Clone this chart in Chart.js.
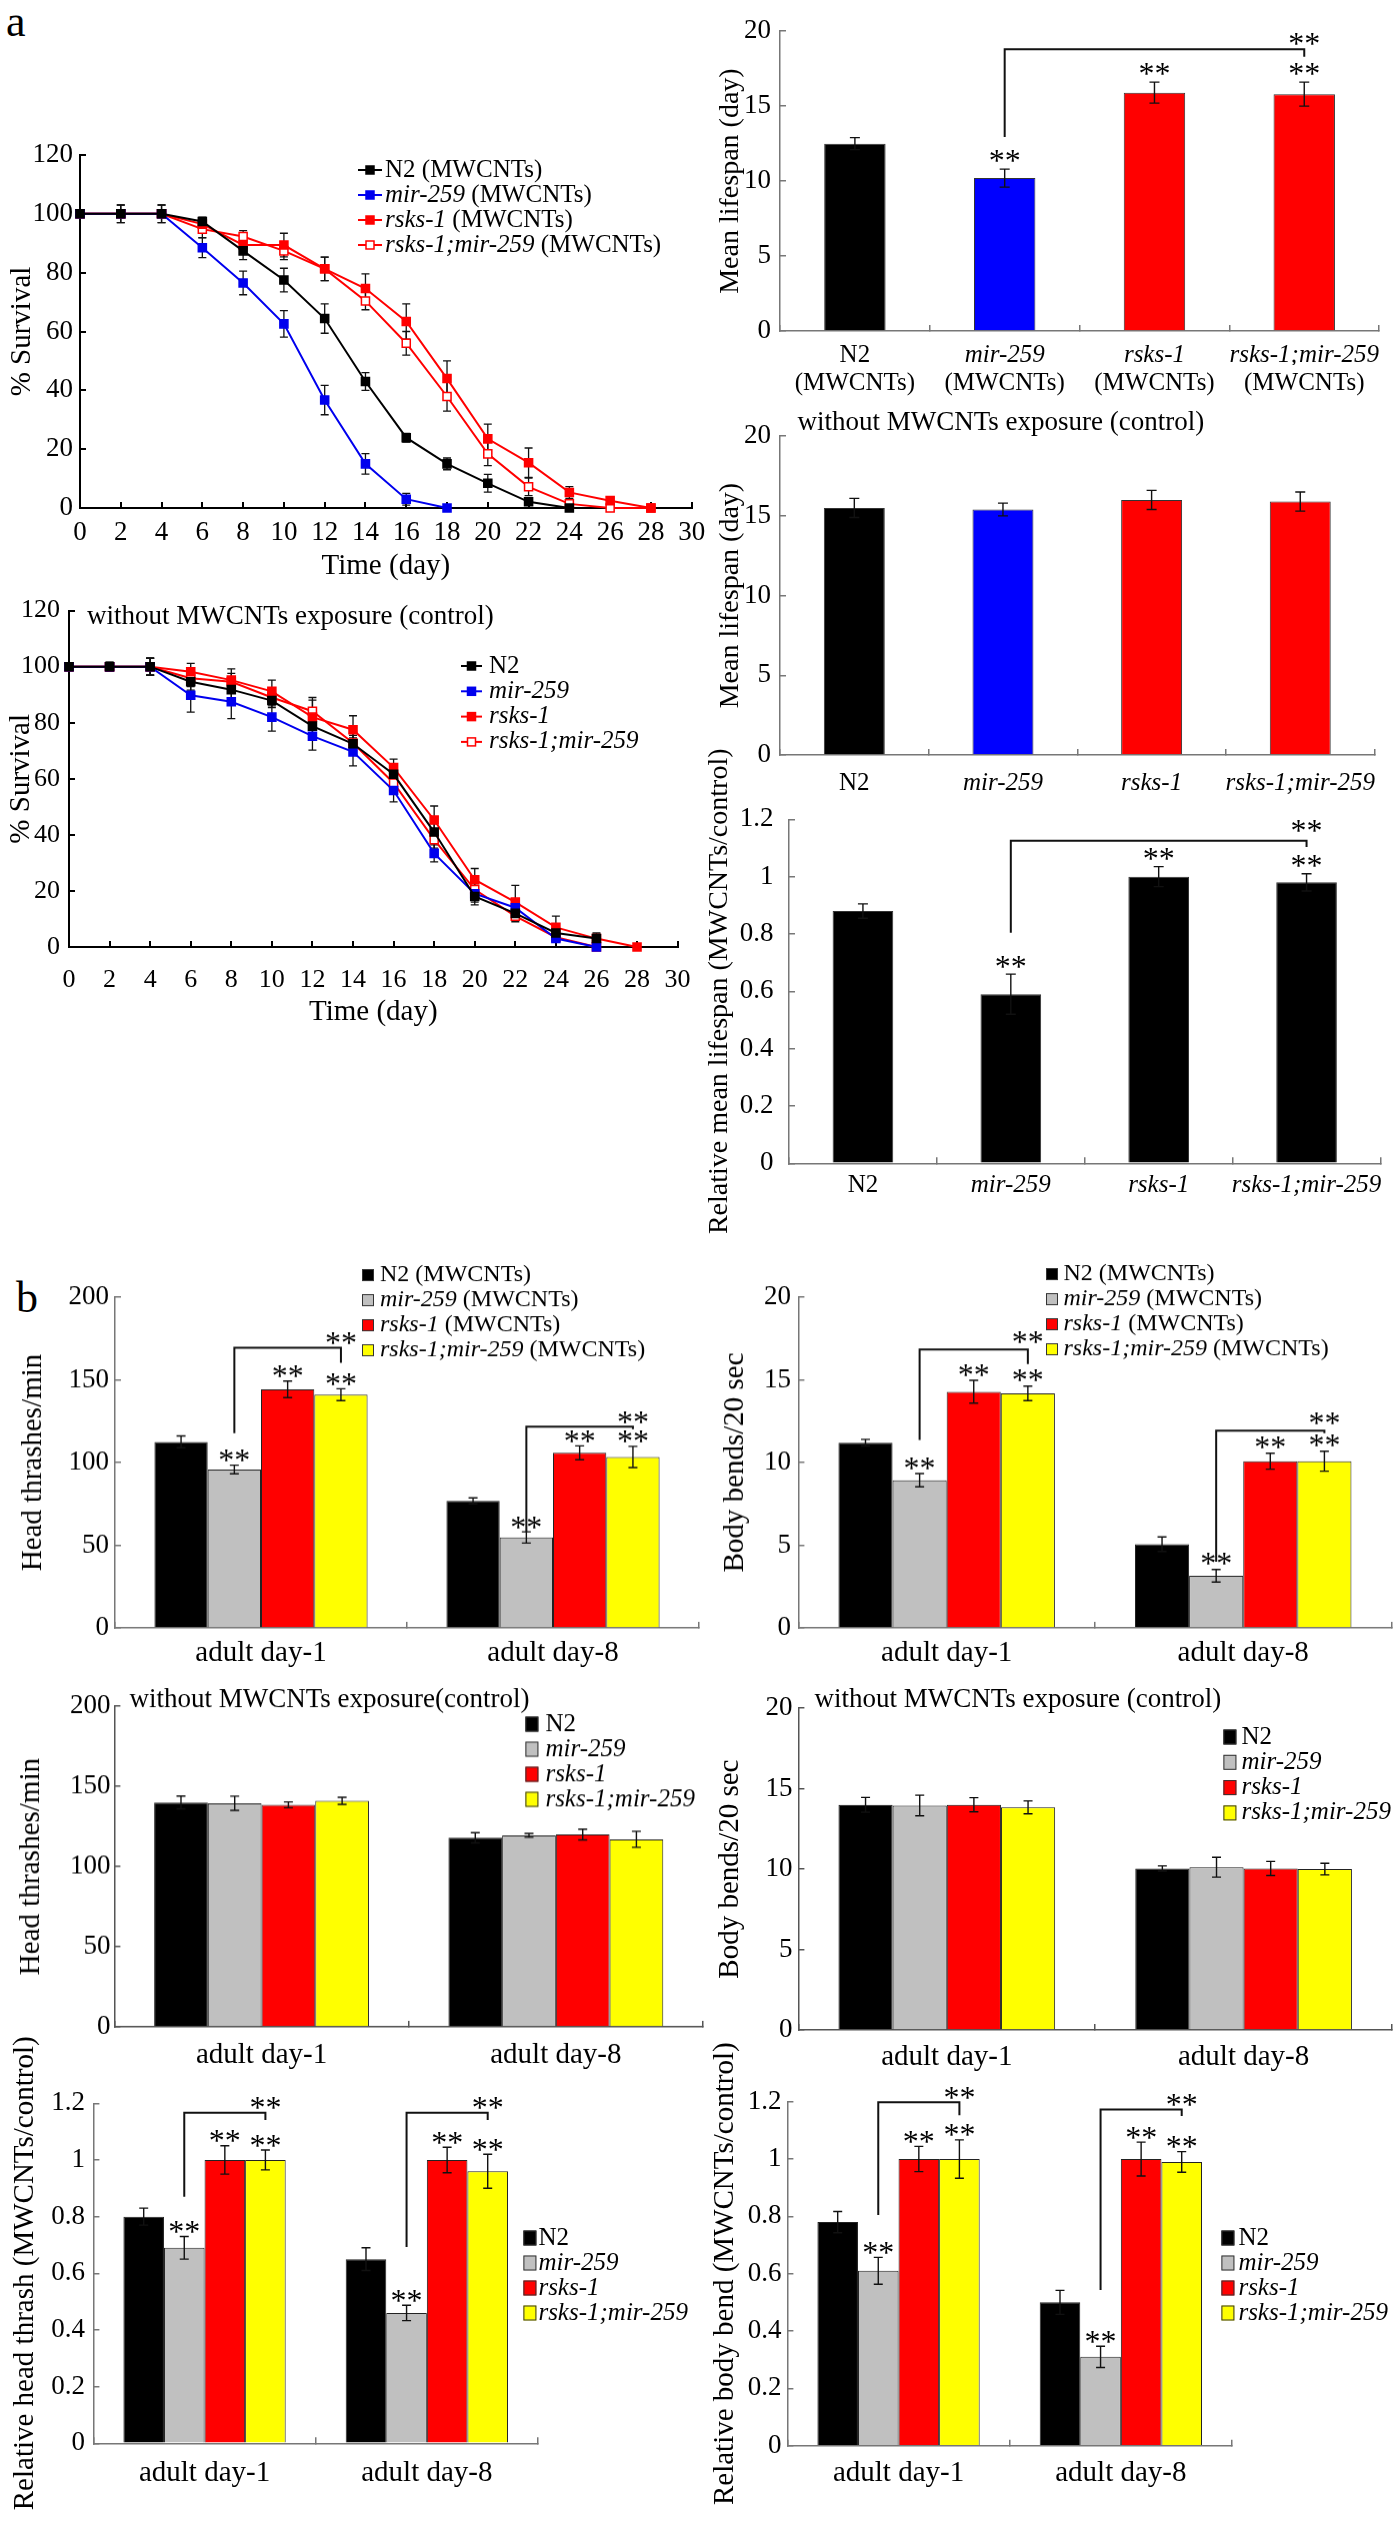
<!DOCTYPE html>
<html><head><meta charset="utf-8">
<script src="https://cdn.jsdelivr.net/npm/chart.js@4.4.1/dist/chart.umd.min.js"></script>
<style>
html,body{margin:0;padding:0;background:#fff;}
body{position:relative;width:1395px;height:2523px;overflow:hidden;font-family:'Liberation Serif','Times New Roman',serif;}
.box{position:absolute;}
.lbl{position:absolute;font-family:'Liberation Serif','Times New Roman',serif;color:#000;line-height:1;}
</style></head><body>
<div class="lbl" style="left:6px;top:0px;font-size:44px;">a</div>
<div class="lbl" style="left:16px;top:1276px;font-size:44px;">b</div>
<script>
// ---------- categories / labels ----------
const genotypes = ['N2', 'mir-259', 'rsks-1', 'rsks-1;mir-259'];
const mwLabels = ['N2 (MWCNTs)', 'mir-259 (MWCNTs)', 'rsks-1 (MWCNTs)', 'rsks-1;mir-259 (MWCNTs)'];
const exposureTag = '(MWCNTs)';
const stages = ['adult day-1', 'adult day-8'];
const days = [0, 2, 4, 6, 8, 10, 12, 14, 16, 18, 20, 22, 24, 26, 28];

// ---------- survival, MWCNTs exposure ----------
const survMW_N2   = [100, 100, 100, 97.4, 87.4, 77.5, 64.4, 43, 23.9, 15, 8.4, 2.1, 0, null, null];
const survMW_mir  = [100, 100, 100, 88.5, 76.5, 62.6, 36.7, 15, 3, 0, null, null, null, null, null];
const survMW_rsks = [100, 100, 100, 96.5, 89.4, 89.4, 81.3, 74.6, 63.4, 44, 23.5, 15.4, 5.3, 2.5, 0];
const survMW_dbl  = [100, 100, 100, 94.8, 92.3, 87.4, 81.3, 70.4, 56, 37.9, 18.4, 7.2, 1.4, 0, 0];
const errMW_N2   = [0, 3, 3, 1.5, 3, 4, 5, 3, 1.5, 2, 3, 1, 0, null, null];
const errMW_mir  = [0, 0, 0, 3.4, 4, 4.5, 5, 3.5, 2, 0, null, null, null, null, null];
const errMW_rsks = [0, 0, 0, 2, 2, 4, 4, 5, 6, 6, 5, 5, 2, 1, 0];
const errMW_dbl  = [0, 3, 3, 3, 2, 3, 4, 3, 4, 5, 4, 3, 1, 0, 0];

// ---------- survival, control ----------
const survC_N2   = [100, 100, 100, 94.6, 91.8, 87.9, 78.8, 72.5, 61.6, 41, 18, 12, 5, 3, null];
const survC_mir  = [100, 100, 100, 89.8, 87.5, 82, 75.2, 69.6, 55.8, 33.4, 19, 14, 3, 0, null];
const survC_rsks = [100, 100, 100, 98.2, 95.2, 91.2, 82, 77.5, 64, 45.3, 24, 16, 7, 3, 0];
const survC_dbl  = [100, 100, 100, 95.9, 94.6, 89, 84.1, 72.8, 58.5, 38.3, 20.5, 11, 3.5, 0, null];
const errC_N2   = [0, 1.5, 3, 3, 3, 2.5, 3, 3, 3, 3, 3, 2, 1.5, 1.5, null];
const errC_mir  = [0, 1.5, 3, 6, 6, 5, 5, 5, 4, 3, 3, 2, 1, 0, null];
const errC_rsks = [0, 1.5, 3, 3, 4, 4, 7, 5, 3, 5, 4, 6, 4, 2, 0];
const errC_dbl  = [0, 1.5, 3, 3, 3, 3, 4, 4, 3, 3, 3, 2, 1, 0, null];

// ---------- mean lifespan ----------
const lifeMW = [12.5, 10.2, 15.9, 15.8];
const lifeMWErr = [0.4, 0.6, 0.7, 0.8];
const lifeCtl = [15.5, 15.4, 16.0, 15.9];
const lifeCtlErr = [0.6, 0.4, 0.6, 0.6];
const lifeRel = [0.88, 0.59, 1.0, 0.98];
const lifeRelErr = [0.025, 0.07, 0.035, 0.03];

// ---------- head thrashes, MWCNTs ----------
const htMW_N2 = [112.5, 76.8],  htMW_N2Err = [3.6, 1.8];
const htMW_mir = [95.8, 54.7],  htMW_mirErr = [2.6, 3.4];
const htMW_rsks = [144.2, 105.9], htMW_rsksErr = [5, 4.2];
const htMW_dbl = [141, 103.4],  htMW_dblErr = [3.6, 6.4];
// ---------- body bends, MWCNTs ----------
const bbMW_N2 = [11.2, 5.06],   bbMW_N2Err = [0.2, 0.44];
const bbMW_mir = [8.93, 3.15],  bbMW_mirErr = [0.4, 0.38];
const bbMW_rsks = [14.28, 10.08], bbMW_rsksErr = [0.69, 0.48];
const bbMW_dbl = [14.18, 10.08], bbMW_dblErr = [0.44, 0.6];
// ---------- head thrashes, control ----------
const htC_N2 = [140, 118],    htC_N2Err = [4, 3.2];
const htC_mir = [139.5, 119.5], htC_mirErr = [4.4, 1.2];
const htC_rsks = [138.5, 120], htC_rsksErr = [1.8, 3.4];
const htC_dbl = [141, 117],   htC_dblErr = [2.2, 5];
// ---------- body bends, control ----------
const bbC_N2 = [14.0, 10.04],  bbC_N2Err = [0.46, 0.16];
const bbC_mir = [13.96, 10.12], bbC_mirErr = [0.64, 0.62];
const bbC_rsks = [14.0, 10.04], bbC_rsksErr = [0.44, 0.44];
const bbC_dbl = [13.84, 10.0],  bbC_dblErr = [0.4, 0.36];
// ---------- relative head thrash ----------
const rhtN2 = [0.80, 0.65],  rhtN2Err = [0.03, 0.04];
const rhtMir = [0.69, 0.46], rhtMirErr = [0.04, 0.027];
const rhtRsks = [1.0, 1.0],  rhtRsksErr = [0.05, 0.045];
const rhtDbl = [1.0, 0.96],  rhtDblErr = [0.035, 0.06];
// ---------- relative body bend ----------
const rbbN2 = [0.78, 0.50],  rbbN2Err = [0.037, 0.042];
const rbbMir = [0.61, 0.31], rbbMirErr = [0.047, 0.037];
const rbbRsks = [1.0, 1.0],  rbbRsksErr = [0.044, 0.059];
const rbbDbl = [1.0, 0.99],  rbbDblErr = [0.067, 0.036];

// ---------- styling ----------
const SERIF = "'Liberation Serif','Times New Roman',serif";
const colorsA = ['#000000', '#0000ff', '#ff0000', '#ff0000'];
const colorsB = ['#000000', '#c0c0c0', '#ff0000', '#ffff00'];
Chart.defaults.font.family = SERIF;
Chart.defaults.color = '#000';

const extras = {
  id: 'extras',
  beforeDatasetsDraw(chart) {
    const o = chart.options.plugins.extras || {};
    if (o.errBehind) drawErrors(chart, o);
  },
  afterDatasetsDraw(chart) {
    const o = chart.options.plugins.extras || {};
    if (!o.errBehind) drawErrors(chart, o);
  },
  afterDraw(chart) {
    const o = chart.options.plugins.extras || {};
    const ctx = chart.ctx, ys = chart.scales.y;
    const ox = o.ox || 0, oy = o.oy || 0;
    const sfs = o.sfs || 32;
    ctx.save();
    const star = (x, bottom) => {
      ctx.font = sfs + 'px ' + SERIF;
      ctx.fillStyle = '#000'; ctx.textAlign = 'center'; ctx.textBaseline = 'alphabetic';
      ctx.fillText('**', x, bottom + 0.3 * sfs);
    };
    (o.stars || []).forEach(([di, i]) => {
      const ds = chart.data.datasets[di];
      const el = chart.getDatasetMeta(di).data[i];
      const top = ys.getPixelForValue(ds.data[i] + (ds.errors ? ds.errors[i] : 0));
      star(el.x, top - (o.starGap || 5));
    });
    (o.brackets || []).forEach(b => {
      const xa = chart.getDatasetMeta(b.a[0]).data[b.a[1]].x;
      const xb = chart.getDatasetMeta(b.b[0]).data[b.b[1]].x;
      const yl = ys.getPixelForValue(b.level), ya = ys.getPixelForValue(b.aEnd), yb = ys.getPixelForValue(b.bEnd);
      ctx.strokeStyle = '#111'; ctx.lineWidth = 2;
      ctx.beginPath(); ctx.moveTo(xa, ya); ctx.lineTo(xa, yl); ctx.lineTo(xb, yl); ctx.lineTo(xb, yb); ctx.stroke();
      star(xb, yl - (o.topGap || 5));
    });
    const L = o.legend;
    if (L) {
      chart.data.datasets.forEach((ds, i) => {
        const y = L.y + i * L.dy - oy;
        const x = L.x - ox;
        if (L.kind === 'line') {
          ctx.strokeStyle = ds.borderColor; ctx.lineWidth = 2;
          ctx.beginPath(); ctx.moveTo(x, y); ctx.lineTo(x + L.len, y); ctx.stroke();
          const s = 8;
          ctx.fillStyle = ds.pointBackgroundColor;
          ctx.fillRect(x + L.len / 2 - s / 2, y - s / 2, s, s);
          ctx.lineWidth = 1.5; ctx.strokeStyle = ds.pointBorderColor;
          ctx.strokeRect(x + L.len / 2 - s / 2, y - s / 2, s, s);
        } else {
          ctx.fillStyle = ds.backgroundColor;
          ctx.fillRect(x, y - L.h / 2, L.w, L.h);
          ctx.strokeStyle = '#333'; ctx.lineWidth = 1;
          ctx.strokeRect(x + 0.5, y - L.h / 2 + 0.5, L.w - 1, L.h - 1);
        }
        const lab = ds.label;
        let parts;
        if (lab.indexOf('N2') === 0) parts = [[lab, false]];
        else {
          const k = lab.indexOf(' ');
          parts = k < 0 ? [[lab, true]] : [[lab.slice(0, k), true], [lab.slice(k), false]];
        }
        let tx = x + L.dx;
        ctx.textBaseline = 'middle'; ctx.textAlign = 'left'; ctx.fillStyle = '#000';
        parts.forEach(([t, it]) => {
          ctx.font = (it ? 'italic ' : '') + L.fs + 'px ' + SERIF;
          ctx.fillText(t, tx, y);
          tx += ctx.measureText(t).width;
        });
      });
    }
    (o.texts || []).forEach(t => {
      ctx.font = t.fs + 'px ' + SERIF;
      ctx.fillStyle = '#000'; ctx.textAlign = 'left'; ctx.textBaseline = 'middle';
      ctx.fillText(t.t, t.x - ox, t.y - oy);
    });
    ctx.restore();
  }
};

function drawErrors(chart, o) {
  const ctx = chart.ctx, ys = chart.scales.y;
  ctx.save();
  chart.data.datasets.forEach((ds, di) => {
    if (!ds.errors) return;
    const meta = chart.getDatasetMeta(di);
    meta.data.forEach((el, i) => {
      const raw = ds.data[i];
      const v = (raw !== null && typeof raw === 'object') ? raw.y : raw;
      const e = ds.errors[i];
      if (v == null || !e) return;
      const y1 = ys.getPixelForValue(v + e), y2 = ys.getPixelForValue(v - e);
      const c = (o.cap || 8) / 2, x = el.x;
      ctx.strokeStyle = '#111'; ctx.lineWidth = o.errW || 1.4;
      ctx.beginPath();
      ctx.moveTo(x, y1); ctx.lineTo(x, y2);
      ctx.moveTo(x - c, y1); ctx.lineTo(x + c, y1);
      ctx.moveTo(x - c, y2); ctx.lineTo(x + c, y2);
      ctx.stroke();
    });
  });
  ctx.restore();
}

function linAxis(o) {
  return {
    type: 'linear', min: o.min, max: o.max,
    ticks: {stepSize: o.step, padding: o.pad, font: {size: o.fs}, color: '#000', autoSkip: false, maxRotation: 0,
      callback: v => String(Math.round(v * 100) / 100)},
    grid: {drawOnChartArea: false, drawTicks: true, tickLength: -6, color: o.color, lineWidth: o.lw},
    border: {display: true, color: o.color, width: o.lw},
    title: o.title ? {display: true, text: o.title, font: {size: o.tfs}, padding: 0, color: '#000'} : {display: false}
  };
}
function catAxis(o) {
  return {
    type: 'category', offset: true,
    ticks: {padding: o.pad, font: o.font, color: '#000', autoSkip: false, maxRotation: 0},
    grid: {offset: true, drawOnChartArea: false, drawTicks: true, tickLength: -6, color: o.color, lineWidth: o.lw},
    border: {display: true, color: o.color, width: o.lw}
  };
}
const italicAfterFirst = size => c => ({size: size, style: c.index === 0 ? 'normal' : 'italic'});

function build(spec) {
  const {box, axes} = spec;
  const div = document.createElement('div');
  div.className = 'box';
  div.style.left = box.x + 'px'; div.style.top = box.y + 'px';
  div.style.width = box.w + 'px'; div.style.height = box.h + 'px';
  const cv = document.createElement('canvas');
  cv.width = box.w; cv.height = box.h;
  cv.style.width = box.w + 'px'; cv.style.height = box.h + 'px';
  div.appendChild(cv);
  document.body.appendChild(div);
  const yw = axes.l - box.x;
  const xh = box.y + box.h - axes.b;
  const scales = spec.scales;
  scales.y.afterFit = s => { s.width = yw; };
  if (scales.x2) {
    scales.x.afterFit = s => { s.height = spec.xh1; };
    scales.x2.afterFit = s => { s.height = xh - spec.xh1; };
  } else {
    scales.x.afterFit = s => { s.height = xh; };
  }
  return new Chart(cv, {
    type: spec.type,
    data: spec.data,
    options: {
      responsive: false, animation: false,
      layout: {autoPadding: false, padding: {left: 0, top: axes.t - box.y, right: box.x + box.w - axes.r, bottom: 0}},
      plugins: {legend: {display: false}, tooltip: {enabled: false},
        extras: Object.assign({ox: box.x, oy: box.y}, spec.extras)},
      scales: scales
    },
    plugins: [extras]
  });
}

function survDS(label, vals, errs, color, open) {
  return {
    label: label,
    data: days.map((d, i) => ({x: d, y: vals[i]})).filter(p => p.y != null),
    errors: errs,
    borderColor: color, backgroundColor: color,
    pointStyle: 'rect', pointRadius: 5.7,
    pointBackgroundColor: open ? '#ffffff' : color, pointBorderColor: color, pointBorderWidth: 1.5,
    borderWidth: 2, clip: false, tension: 0
  };
}
function genoBarDS(data, errs, label) {
  return {label: label, data: data, errors: errs, backgroundColor: colorsA, borderColor: '#333', borderWidth: 1,
    categoryPercentage: 0.82, barPercentage: 0.5};
}
function groupDS(labels, sets) {
  return sets.map((s, k) => ({label: labels[k], data: s[0], errors: s[1], backgroundColor: colorsB[k],
    borderColor: '#222', borderWidth: 1, categoryPercentage: 0.73, barPercentage: 1}));
}

// ===== A1: survival with MWCNTs =====
build({
  box: {x: 5, y: 125, w: 715, h: 459}, axes: {l: 80, r: 695, t: 155, b: 508}, type: 'line',
  data: {datasets: [
    survDS(mwLabels[0], survMW_N2, errMW_N2, '#000000', false),
    survDS(mwLabels[1], survMW_mir, errMW_mir, '#0000ee', false),
    survDS(mwLabels[2], survMW_rsks, errMW_rsks, '#ff0000', false),
    survDS(mwLabels[3], survMW_dbl, errMW_dbl, '#ff0000', true)]},
  scales: {
    x: linAxis({min: 0, max: 30, step: 2, pad: 14.8, fs: 27, color: '#000', lw: 2, title: 'Time (day)', tfs: 29}),
    y: linAxis({min: 0, max: 120, step: 20, pad: 13, fs: 27, color: '#000', lw: 2, title: '% Survival', tfs: 29})
  },
  extras: {errBehind: true, cap: 8, errW: 1.3, legend: {kind: 'line', x: 358, y: 170, dy: 25, len: 24, dx: 27, fs: 25}}
});

// ===== A2: survival control =====
build({
  box: {x: 4, y: 580, w: 710, h: 450}, axes: {l: 69, r: 684, t: 607, b: 947}, type: 'line',
  data: {datasets: [
    survDS(genotypes[0], survC_N2, errC_N2, '#000000', false),
    survDS(genotypes[1], survC_mir, errC_mir, '#0000ee', false),
    survDS(genotypes[2], survC_rsks, errC_rsks, '#ff0000', false),
    survDS(genotypes[3], survC_dbl, errC_dbl, '#ff0000', true)]},
  scales: {
    x: linAxis({min: 0, max: 30, step: 2, pad: 23.4, fs: 26, color: '#000', lw: 2, title: 'Time (day)', tfs: 29}),
    y: linAxis({min: 0, max: 120, step: 20, pad: 15, fs: 26, color: '#000', lw: 2, title: '% Survival', tfs: 29})
  },
  extras: {errBehind: true, cap: 8, errW: 1.3,
    legend: {kind: 'line', x: 461, y: 666, dy: 25.3, len: 21, dx: 28, fs: 25},
    texts: [{t: 'without MWCNTs exposure (control)', x: 87, y: 617, fs: 27}]}
});

// ===== A3: mean lifespan MWCNTs =====
build({
  box: {x: 714, y: 0, w: 681, h: 400}, axes: {l: 780, r: 1387, t: 9, b: 331}, xh1: 34, type: 'bar',
  data: {labels: genotypes, datasets: [genoBarDS(lifeMW, lifeMWErr, 'Mean lifespan')]},
  scales: {
    x: catAxis({pad: 15, font: italicAfterFirst(25), color: '#777', lw: 1.5}),
    x2: {type: 'category', position: 'bottom', offset: true, weight: 1, labels: genotypes.map(() => exposureTag),
      grid: {display: false, drawTicks: false}, border: {display: false},
      ticks: {padding: 3, font: {size: 25}, color: '#000', autoSkip: false, maxRotation: 0}},
    y: linAxis({min: 0, max: 20, step: 5, pad: 15, fs: 27, color: '#777', lw: 1.5, title: 'Mean lifespan (day)', tfs: 28})
  },
  extras: {cap: 10, stars: [[0, 1], [0, 2], [0, 3]], starGap: 8, topGap: 5,
    brackets: [{a: [0, 1], b: [0, 3], level: 18.8, aEnd: 12.95, bEnd: 18.3}]}
});

// ===== A4: mean lifespan control =====
build({
  box: {x: 714, y: 405, w: 681, h: 395}, axes: {l: 780, r: 1387, t: 416, b: 755}, type: 'bar',
  data: {labels: genotypes, datasets: [genoBarDS(lifeCtl, lifeCtlErr, 'Mean lifespan')]},
  scales: {
    x: catAxis({pad: 19, font: italicAfterFirst(25), color: '#777', lw: 1.5}),
    y: linAxis({min: 0, max: 20, step: 5, pad: 15, fs: 27, color: '#777', lw: 1.5, title: 'Mean lifespan (day)', tfs: 28})
  },
  extras: {cap: 10, texts: [{t: 'without MWCNTs exposure (control)', x: 797.5, y: 423, fs: 27}]}
});

// ===== A5: relative mean lifespan =====
build({
  box: {x: 703, y: 740, w: 692, h: 513}, axes: {l: 789, r: 1387, t: 819.3, b: 1163.3}, type: 'bar',
  data: {labels: genotypes, datasets: [Object.assign(genoBarDS(lifeRel, lifeRelErr, 'Relative mean lifespan'),
    {backgroundColor: '#000000'})]},
  scales: {
    x: catAxis({pad: 12.7, font: italicAfterFirst(25), color: '#777', lw: 1.5}),
    y: linAxis({min: 0, max: 1.2, step: 0.2, pad: 21.6, fs: 27, color: '#777', lw: 1.5,
      title: 'Relative mean lifespan (MWCNTs/control)', tfs: 28})
  },
  extras: {cap: 10, stars: [[0, 1], [0, 2], [0, 3]], starGap: 7, topGap: 9,
    brackets: [{a: [0, 1], b: [0, 3], level: 1.125, aEnd: 0.804, bEnd: 1.103}]}
});

const allStars = [[1, 0], [2, 0], [3, 0], [1, 1], [2, 1], [3, 1]];

// ===== B1: head thrashes MWCNTs =====
build({
  box: {x: 16, y: 1250, w: 684, h: 427.7}, axes: {l: 115, r: 699, t: 1297, b: 1627.7}, type: 'bar',
  data: {labels: stages, datasets: groupDS(mwLabels, [[htMW_N2, htMW_N2Err], [htMW_mir, htMW_mirErr],
    [htMW_rsks, htMW_rsksErr], [htMW_dbl, htMW_dblErr]])},
  scales: {
    x: catAxis({pad: 13.9, font: {size: 29}, color: '#777', lw: 1.5}),
    y: linAxis({min: 0, max: 200, step: 50, pad: 12, fs: 27, color: '#777', lw: 1.5, title: 'Head thrashes/min', tfs: 29})
  },
  extras: {cap: 9, stars: allStars, starGap: 4, topGap: 4,
    brackets: [{a: [1, 0], b: [3, 0], level: 169.4, aEnd: 117.8, bEnd: 160.3},
               {a: [1, 1], b: [3, 1], level: 121.6, aEnd: 58, bEnd: 120.2}],
    legend: {kind: 'box', x: 362, y: 1275, dy: 25, w: 12, h: 12, dx: 18, fs: 24}}
});

// ===== B2: body bends MWCNTs =====
build({
  box: {x: 718, y: 1250, w: 677, h: 427.7}, axes: {l: 798.4, r: 1391.5, t: 1297, b: 1627.7}, type: 'bar',
  data: {labels: stages, datasets: groupDS(mwLabels, [[bbMW_N2, bbMW_N2Err], [bbMW_mir, bbMW_mirErr],
    [bbMW_rsks, bbMW_rsksErr], [bbMW_dbl, bbMW_dblErr]])},
  scales: {
    x: catAxis({pad: 13.9, font: {size: 29}, color: '#777', lw: 1.5}),
    y: linAxis({min: 0, max: 20, step: 5, pad: 13.4, fs: 27, color: '#777', lw: 1.5, title: 'Body bends/20 sec', tfs: 29})
  },
  extras: {cap: 9, stars: allStars, starGap: 5, topGap: 7,
    brackets: [{a: [1, 0], b: [3, 0], level: 16.84, aEnd: 11.36, bEnd: 15.95},
               {a: [1, 1], b: [3, 1], level: 11.92, aEnd: 4.0, bEnd: 11.78}],
    legend: {kind: 'box', x: 1046, y: 1274, dy: 25, w: 12, h: 12, dx: 17.5, fs: 24}}
});

// ===== B3: head thrashes control =====
build({
  box: {x: 13.6, y: 1680, w: 691.4, h: 394.7}, axes: {l: 114, r: 703, t: 1693.3, b: 2026.7}, type: 'bar',
  data: {labels: stages, datasets: groupDS(genotypes, [[htC_N2, htC_N2Err], [htC_mir, htC_mirErr],
    [htC_rsks, htC_rsksErr], [htC_dbl, htC_dblErr]])},
  scales: {
    x: catAxis({pad: 16.9, font: {size: 29}, color: '#555', lw: 1.5}),
    y: linAxis({min: 0, max: 200, step: 50, pad: 10, fs: 27, color: '#555', lw: 1.5, title: 'Head thrashes/min', tfs: 29})
  },
  extras: {cap: 9, texts: [{t: 'without MWCNTs exposure(control)', x: 129, y: 1700, fs: 27}],
    legend: {kind: 'box', x: 525, y: 1724, dy: 25, w: 13, h: 15, dx: 20, fs: 25}}
});

// ===== B4: body bends control =====
build({
  box: {x: 712.6, y: 1680, w: 682.4, h: 398}, axes: {l: 798, r: 1392, t: 1697, b: 2030}, type: 'bar',
  data: {labels: stages, datasets: groupDS(genotypes, [[bbC_N2, bbC_N2Err], [bbC_mir, bbC_mirErr],
    [bbC_rsks, bbC_rsksErr], [bbC_dbl, bbC_dblErr]])},
  scales: {
    x: catAxis({pad: 15.6, font: {size: 29}, color: '#555', lw: 1.5}),
    y: linAxis({min: 0, max: 20, step: 5, pad: 12, fs: 27, color: '#555', lw: 1.5, title: 'Body bends/20 sec', tfs: 29})
  },
  extras: {cap: 9, texts: [{t: 'without MWCNTs exposure (control)', x: 814, y: 1700, fs: 27}],
    legend: {kind: 'box', x: 1223, y: 1737, dy: 25.3, w: 13, h: 15, dx: 18, fs: 25}}
});

// ===== B5: relative head thrash =====
build({
  box: {x: 7.6, y: 2020, w: 692.4, h: 500}, axes: {l: 93, r: 538, t: 2103.3, b: 2443.3}, type: 'bar',
  data: {labels: stages, datasets: groupDS(genotypes, [[rhtN2, rhtN2Err], [rhtMir, rhtMirErr],
    [rhtRsks, rhtRsksErr], [rhtDbl, rhtDblErr]])},
  scales: {
    x: catAxis({pad: 18.3, font: {size: 29}, color: '#777', lw: 1.5}),
    y: linAxis({min: 0, max: 1.2, step: 0.2, pad: 14.5, fs: 27, color: '#777', lw: 1.5,
      title: 'Relative head thrash (MWCNTs/control)', tfs: 29})
  },
  extras: {cap: 9, stars: allStars, starGap: 4, topGap: 4,
    brackets: [{a: [1, 0], b: [3, 0], level: 1.167, aEnd: 0.87, bEnd: 1.141},
               {a: [1, 1], b: [3, 1], level: 1.167, aEnd: 0.693, bEnd: 1.141}],
    legend: {kind: 'box', x: 523, y: 2238, dy: 25, w: 13, h: 15, dx: 15, fs: 25}}
});

// ===== B6: relative body bend =====
build({
  box: {x: 707.6, y: 2020, w: 687.4, h: 500}, axes: {l: 787, r: 1232, t: 2101.7, b: 2445.7}, type: 'bar',
  data: {labels: stages, datasets: groupDS(genotypes, [[rbbN2, rbbN2Err], [rbbMir, rbbMirErr],
    [rbbRsks, rbbRsksErr], [rbbDbl, rbbDblErr]])},
  scales: {
    x: catAxis({pad: 15.9, font: {size: 29}, color: '#777', lw: 1.5}),
    y: linAxis({min: 0, max: 1.2, step: 0.2, pad: 12, fs: 27, color: '#777', lw: 1.5,
      title: 'Relative body bend (MWCNTs/control)', tfs: 29})
  },
  extras: {cap: 9, stars: allStars, starGap: 4, topGap: 4,
    brackets: [{a: [1, 0], b: [3, 0], level: 1.198, aEnd: 0.805, bEnd: 1.153},
               {a: [1, 1], b: [3, 1], level: 1.173, aEnd: 0.543, bEnd: 1.15}],
    legend: {kind: 'box', x: 1221, y: 2238, dy: 25, w: 13, h: 15, dx: 17, fs: 25}}
});
</script>
</body></html>
